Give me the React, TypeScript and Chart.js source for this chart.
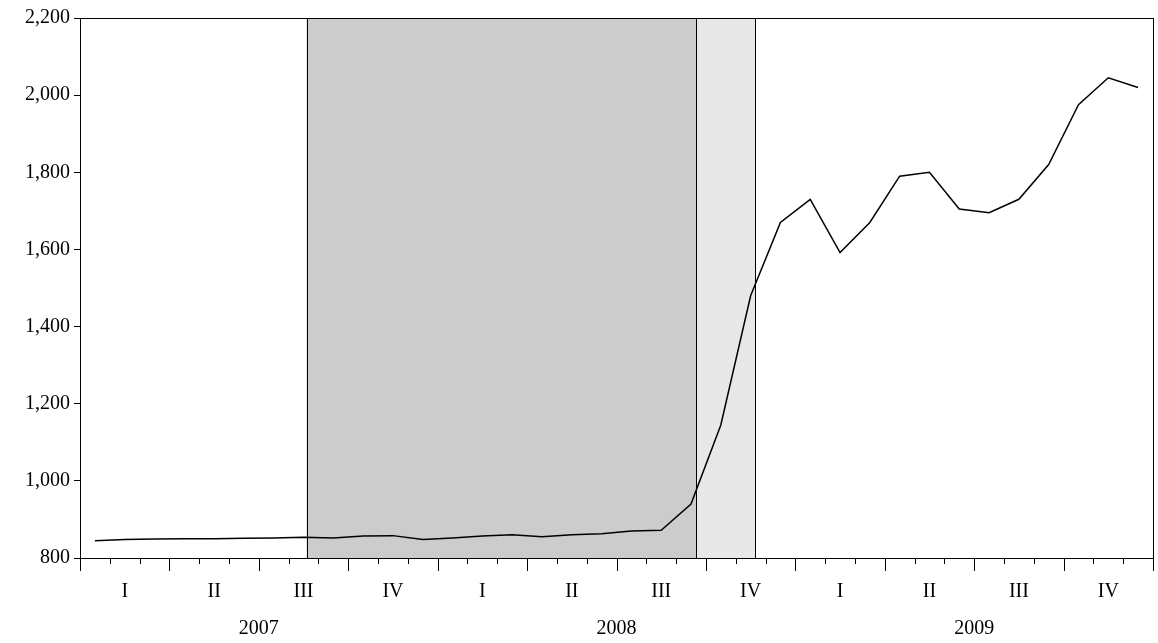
import { useEffect, useRef } from 'react';
import Chart from 'chart.js/auto';

// monthly values, Jan 2007 .. Dec 2009
const values = [
  845, 848, 849, 850, 850, 851, 852, 854, 852, 857, 858, 848,
  852, 857, 860, 855, 860, 863, 870, 872, 940, 1145, 1480, 1670,
  1730, 1592, 1670, 1790, 1800, 1705, 1695, 1730, 1820, 1975, 2045, 2020,
];
const years = ['2007', '2008', '2009'];
const quarters = ['I', 'II', 'III', 'IV'];
// shaded bands, in month units on the x scale
const darkBand = [7.6, 20.67];
const lightBand = [20.67, 22.65];

const FONT = '"Liberation Serif", "Times New Roman", serif';

const App = () => {
  const canvasRef = useRef<HTMLCanvasElement | null>(null);

  useEffect(() => {
    if (!canvasRef.current) return;
    const decor = {
      id: 'decor',
      beforeDatasetsDraw(chart: any) {
        const { ctx, chartArea: a, scales } = chart;
        const x = scales.x;
        const px = (v: number) => x.getPixelForValue(v);
        ctx.save();
        ctx.fillStyle = '#cccccc';
        ctx.fillRect(px(darkBand[0]), a.top, px(darkBand[1]) - px(darkBand[0]), a.bottom - a.top);
        ctx.fillStyle = '#e8e8e8';
        ctx.fillRect(px(lightBand[0]), a.top, px(lightBand[1]) - px(lightBand[0]), a.bottom - a.top);
        ctx.strokeStyle = '#000';
        ctx.lineWidth = 1;
        [darkBand[0], darkBand[1], lightBand[1]].forEach((v) => {
          const p = Math.round(px(v)) + 0.5;
          ctx.beginPath();
          ctx.moveTo(p, a.top);
          ctx.lineTo(p, a.bottom);
          ctx.stroke();
        });
        ctx.restore();
      },
      afterDraw(chart: any) {
        const { ctx, chartArea: a, scales } = chart;
        const x = scales.x;
        ctx.save();
        ctx.strokeStyle = '#000';
        ctx.lineWidth = 1;
        ctx.strokeRect(Math.round(a.left) + 0.5, Math.round(a.top) + 0.5, Math.round(a.right - a.left), Math.round(a.bottom - a.top));
        for (let m = 0; m <= values.length; m++) {
          const p = Math.round(x.getPixelForValue(m)) + 0.5;
          const len = m % 3 === 0 ? 13 : 6;
          ctx.beginPath();
          ctx.moveTo(p, a.bottom);
          ctx.lineTo(p, a.bottom + len);
          ctx.stroke();
        }
        ctx.fillStyle = '#000';
        ctx.font = `20px ${FONT}`;
        ctx.textAlign = 'center';
        ctx.textBaseline = 'middle';
        years.forEach((y, i) => ctx.fillText(y, x.getPixelForValue(i * 12 + 6), a.bottom + 71));
        ctx.restore();
      },
    };

    const chart = new Chart(canvasRef.current, {
      type: 'line',
      data: {
        datasets: [
          {
            data: values.map((v, i) => ({ x: i + 0.5, y: v })),
            borderColor: '#000',
            borderWidth: 1.5,
            pointRadius: 0,
            tension: 0,
          },
        ],
      },
      options: {
        animation: false,
        responsive: true,
        maintainAspectRatio: false,
        layout: { padding: { top: 18, right: 5, left: 0, bottom: 0 } },
        plugins: { legend: { display: false }, tooltip: { enabled: false } },
        scales: {
          x: {
            type: 'linear',
            min: 0,
            max: 36,
            afterFit: (s: any) => { s.height = 85; s.paddingLeft = 0; s.paddingRight = 0; },
            grid: { display: false },
            border: { display: false },
            ticks: {
              stepSize: 0.5,
              autoSkip: false,
              maxRotation: 0,
              padding: 14,
              color: '#000',
              font: { family: FONT, size: 20 },
              callback: (v: any) => {
                const n = Number(v);
                if ((n - 1.5) % 3 !== 0) return '';
                return quarters[Math.floor(n / 3) % 4];
              },
            },
          },
          y: {
            min: 800,
            max: 2200,
            afterFit: (s: any) => { s.width = 80; },
            grid: { drawOnChartArea: false, tickLength: 6, color: '#000' },
            border: { color: '#000' },
            ticks: {
              stepSize: 200,
              padding: 4,
              color: '#000',
              font: { family: FONT, size: 20 },
              callback: (v: any) => Number(v).toLocaleString('en-US'),
            },
          },
        },
      },
      plugins: [decor],
    });
    return () => chart.destroy();
  }, []);

  return (
    <div style={{ position: 'absolute', left: 0, top: 0, width: 1158, height: 643, background: '#fff' }}>
      <canvas ref={canvasRef} />
    </div>
  );
};

export default App;
